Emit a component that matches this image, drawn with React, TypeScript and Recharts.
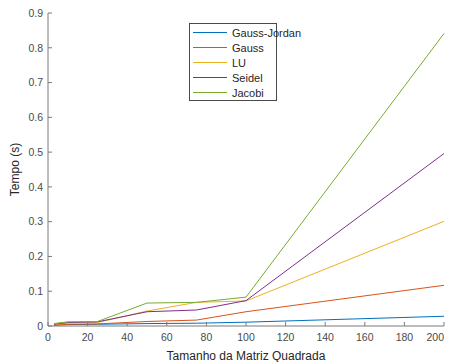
import {
  Label,
  Legend,
  Line,
  LineChart,
  XAxis,
  YAxis,
} from 'recharts'

const sizes = [3, 10, 25, 50, 75, 100, 200]
const gaussJordan = [0.002, 0.004, 0.005, 0.007, 0.008, 0.011, 0.028]
const gauss = [0.003, 0.005, 0.006, 0.013, 0.017, 0.041, 0.117]
const lu = [0.004, 0.008, 0.010, 0.043, 0.068, 0.072, 0.301]
const seidel = [0.005, 0.010, 0.012, 0.041, 0.046, 0.073, 0.496]
const jacobi = [0.007, 0.012, 0.013, 0.066, 0.068, 0.083, 0.841]

const xTicks = [0, 20, 40, 60, 80, 100, 120, 140, 160, 180, 200]
const yTicks = [0, 0.1, 0.2, 0.3, 0.4, 0.5, 0.6, 0.7, 0.8, 0.9]

const series = [
  { key: 'gaussJordan', name: 'Gauss-Jordan', color: '#0072BD', values: gaussJordan },
  { key: 'gauss', name: 'Gauss', color: '#D95319', values: gauss },
  { key: 'lu', name: 'LU', color: '#EDB120', values: lu },
  { key: 'seidel', name: 'Seidel', color: '#7E2F8E', values: seidel },
  { key: 'jacobi', name: 'Jacobi', color: '#77AC30', values: jacobi },
]

const data = sizes.map((n, i) => {
  const row: Record<string, number> = { n }
  series.forEach((s) => {
    row[s.key] = s.values[i]
  })
  return row
})

const AXIS = '#7a7a7a'
const TEXT = '#4a4a4a'
const FONT = '"Liberation Sans", Arial, sans-serif'

function LegendBox() {
  return (
    <div
      style={{
        boxSizing: 'border-box',
        border: '1px solid #4a4a4a',
        background: '#fff',
        padding: '1px 0 2px 3px',
        fontFamily: FONT,
        fontSize: 11,
        color: '#262626',
        width: 88,
        height: 78,
        whiteSpace: 'nowrap',
      }}
    >
      {series.map((s) => (
        <div
          key={s.key}
          style={{ display: 'flex', alignItems: 'center', height: 15 }}
        >
          <div
            style={{
              width: 34,
              height: 1,
              background: s.color,
              marginRight: 5,
              flex: 'none',
            }}
          />
          <span>{s.name}</span>
        </div>
      ))}
    </div>
  )
}

// last x label runs off the page edge otherwise, so end it at the axis end
function XTick(props: any) {
  const { x, y, payload } = props
  const last = payload.value === xTicks[xTicks.length - 1]
  return (
    <text
      x={x}
      y={y}
      dy="0.71em"
      textAnchor={last ? 'end' : 'middle'}
      fontSize={10.5}
      fill={TEXT}
      fontFamily={FONT}
    >
      {payload.value}
    </text>
  )
}

export default function App() {
  return (
    <div style={{ width: 446, height: 354, background: '#fff' }}>
      <style>{'html,body{overflow:hidden}'}</style>
      <LineChart
        width={446}
        height={354}
        data={data}
        margin={{ top: 5, right: 10, bottom: 0, left: 0 }}
        style={{ fontFamily: FONT }}
      >
        <XAxis
          dataKey="n"
          type="number"
          domain={[0, 200]}
          ticks={xTicks}
          interval={0}
          height={36}
          tickSize={-4}
          tickMargin={12}
          stroke={AXIS}
          tick={<XTick />}
        >
          <Label
            value="Tamanho da Matriz Quadrada"
            position="insideBottom"
            offset={2}
            style={{ fontSize: 12, fill: '#262626' }}
          />
        </XAxis>
        <XAxis
          xAxisId="top"
          orientation="top"
          dataKey="n"
          type="number"
          domain={[0, 200]}
          ticks={xTicks}
          height={0}
          tickSize={-4}
          tick={false}
          stroke={AXIS}
        />
        <YAxis
          type="number"
          domain={[0, 0.9]}
          ticks={yTicks}
          interval={0}
          width={40}
          tickSize={-4}
          tickMargin={9}
          stroke={AXIS}
          tick={{ fontSize: 10.5, fill: TEXT }}
          tickFormatter={(v: number) => String(Math.round(v * 10) / 10)}
        >
          <Label
            content={({ viewBox }: any) => {
              const cx = 7
              const cy = viewBox.y + viewBox.height / 2
              return (
                <text
                  x={cx}
                  y={cy}
                  transform={`rotate(-90, ${cx}, ${cy})`}
                  textAnchor="middle"
                  dominantBaseline="central"
                  style={{ fontSize: 12, fill: '#262626', fontFamily: FONT }}
                >
                  Tempo (s)
                </text>
              )
            }}
          />
        </YAxis>
        <YAxis
          yAxisId="right"
          orientation="right"
          type="number"
          domain={[0, 0.9]}
          ticks={yTicks}
          width={0}
          tickSize={-4}
          tick={false}
          stroke={AXIS}
        />
        <Legend
          layout="horizontal"
          verticalAlign="middle"
          align="center"
          wrapperStyle={{ top: 15, left: 181, width: 88, height: 78 }}
          content={() => <LegendBox />}
        />
        {series.map((s) => (
          <Line
            key={s.key}
            dataKey={s.key}
            name={s.name}
            stroke={s.color}
            strokeWidth={1}
            dot={false}
            activeDot={false}
            isAnimationActive={false}
          />
        ))}
      </LineChart>
    </div>
  )
}
